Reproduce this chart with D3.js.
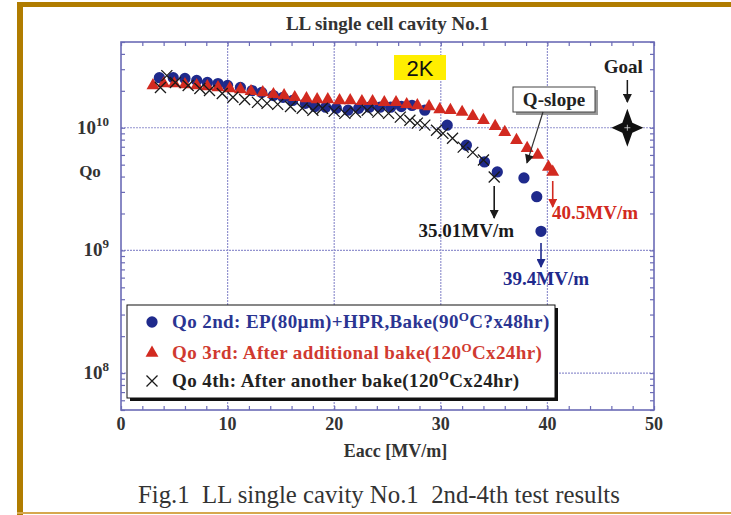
<!DOCTYPE html>
<html>
<head>
<meta charset="utf-8">
<script src="https://cdn.jsdelivr.net/npm/d3@7"></script>
<style>
  body { margin: 0; background: #fff; }
  svg text { font-family: "Liberation Serif", "Times New Roman", serif; }
</style>
</head>
<body>
<div id="chart"></div>
<script>
// ---- data ----
const eacc2 = [3.6, 4.9, 6.0, 7.1, 8.1, 9.1, 10.0, 11.2, 12.3, 13.2, 14.3, 15.2, 16.1, 17.3, 18.2, 19.2, 20.2, 21.3,
               22.3, 23.3, 24.3, 25.3, 26.3, 27.3, 28.5, 30.6, 32.4, 34.1, 35.3, 37.8, 39.0, 39.4];
const qo2 = [2.56e10, 2.56e10, 2.52e10, 2.43e10, 2.34e10, 2.29e10, 2.21e10, 2.13e10, 2.01e10, 1.94e10, 1.83e10, 1.77e10,
             1.67e10, 1.58e10, 1.49e10, 1.47e10, 1.44e10, 1.39e10, 1.44e10, 1.47e10, 1.47e10, 1.47e10, 1.49e10, 1.52e10,
             1.39e10, 1.05e10, 7.2e9, 5.26e9, 4.36e9, 3.9e9, 2.74e9, 1.43e9];

const eacc3 = [3.0, 4.0, 5.0, 6.0, 7.1, 8.1, 9.1, 10.2, 11.2, 12.2, 13.3, 14.3, 15.3, 16.3, 17.4, 18.4, 19.4, 20.5,
               21.5, 22.6, 23.6, 24.7, 25.8, 26.8, 27.8, 28.9, 29.9, 30.9, 32.0, 33.0, 34.0, 35.1, 36.0, 37.1, 38.1,
               39.1, 40.1, 40.5];
const qo3 = [2.21e10, 2.29e10, 2.29e10, 2.25e10, 2.21e10, 2.17e10, 2.13e10, 2.09e10, 2.05e10, 1.98e10, 1.94e10, 1.87e10,
             1.83e10, 1.77e10, 1.73e10, 1.70e10, 1.70e10, 1.67e10, 1.67e10, 1.64e10, 1.64e10, 1.61e10, 1.61e10, 1.55e10,
             1.52e10, 1.49e10, 1.41e10, 1.39e10, 1.34e10, 1.24e10, 1.15e10, 1.03e10, 9.2e9, 7.9e9, 6.8e9, 6.0e9,
             4.79e9, 4.36e9];

const eacc4 = [3.7, 4.3, 5.1, 6.3, 7.4, 8.3, 9.5, 10.5, 11.6, 12.8, 13.7, 14.7, 15.9, 17.0, 18.0, 18.9, 20.0, 21.0,
               22.0, 23.1, 24.1, 25.1, 26.2, 27.1, 27.8, 28.5, 29.6, 30.2, 31.1, 32.1, 33.0, 34.0, 35.01];
const qo4 = [2.13e10, 2.66e10, 2.34e10, 2.21e10, 2.09e10, 2.01e10, 1.90e10, 1.77e10, 1.70e10, 1.61e10, 1.58e10, 1.55e10,
             1.49e10, 1.44e10, 1.39e10, 1.44e10, 1.36e10, 1.31e10, 1.34e10, 1.39e10, 1.34e10, 1.31e10, 1.22e10, 1.15e10,
             1.09e10, 1.05e10, 9.55e9, 9.0e9, 8.2e9, 6.95e9, 6.3e9, 5.46e9, 3.97e9];

const goalEacc = 47.5;
const goalQo = 1e10;

const xTicks = [0, 10, 20, 30, 40, 50];
const yDecades = [1e8, 1e9, 1e10];
const yExponents = ["8", "9", "10"];

const legendLabels = [
    ["Qo 2nd: EP(80\u00b5m)+HPR,Bake(90", "O", "C?x48hr)"],
    ["Qo 3rd: After additional bake(120", "O", "Cx24hr)"],
    ["Qo 4th: After another bake(120", "O", "Cx24hr)"]
];

// ---- setup ----
const W = 731, H = 515;
const frameColor = "#6b6bb6";
const blue = "#1f2a8c", red = "#d22a20", black = "#1a1a1a";
const blueText = "#2b3592", redText = "#d03a30";

const svg = d3.select("#chart").append("svg")
    .attr("width", W)
    .attr("height", H);

// slide border
svg.append("rect").attr("x", 17).attr("y", 2).attr("width", 6).attr("height", H - 2).attr("fill", "#b07c00");
svg.append("rect").attr("x", 17).attr("y", 2).attr("width", W - 17).attr("height", 5).attr("fill", "#b07c00");
svg.append("rect").attr("x", 17).attr("y", 512).attr("width", W - 17).attr("height", 2).attr("fill", "#d6a84e");

const x = d3.scaleLinear().domain([0, 50]).range([121, 654]);
const y = d3.scaleLog().domain([5e7, 5e10]).range([410, 42]);

const [x0, x1] = x.range();
const [y0, y1] = y.range();

// arrow markers
const defs = svg.append("defs");
[["black", black], ["red", red], ["blue", blue]].forEach(([name, col]) => {
    defs.append("marker")
        .attr("id", "arrow-" + name)
        .attr("markerUnits", "userSpaceOnUse")
        .attr("viewBox", "0 0 10 10")
        .attr("refX", 9).attr("refY", 5)
        .attr("markerWidth", 11).attr("markerHeight", 9)
        .attr("orient", "auto")
        .append("path")
        .attr("d", "M0,0L10,5L0,10Z")
        .attr("fill", col);
});

// grid
svg.append("g").selectAll("line")
    .data(xTicks.slice(1, -1))
    .join("line")
    .attr("x1", d => x(d)).attr("x2", d => x(d))
    .attr("y1", y1).attr("y2", y0)
    .attr("stroke", "#9393cf")
    .attr("stroke-width", 1.2)
    .attr("stroke-dasharray", "2,1");

svg.append("g").selectAll("line")
    .data(yDecades)
    .join("line")
    .attr("x1", x0).attr("x2", x1)
    .attr("y1", d => y(d)).attr("y2", d => y(d))
    .attr("stroke", "#9393cf")
    .attr("stroke-width", 1.2)
    .attr("stroke-dasharray", "2,1");

// minor ticks (inward, all four sides)
const xMinor = d3.range(0, 51, 2);
const yMinor = [];
for (let e = 7; e <= 10; e++) {
    for (let k = 1; k <= 9; k++) {
        const v = k * Math.pow(10, e);
        if (v >= 5e7 && v <= 5e10) yMinor.push(v);
    }
}

function styleTicks(g) {
    g.select(".domain").remove();
    g.selectAll(".tick line").attr("stroke", frameColor).attr("stroke-width", 1.2);
}

svg.append("g").attr("transform", `translate(0,${y0})`)
    .call(d3.axisBottom(x).tickValues(xMinor).tickSize(-4).tickFormat(""))
    .call(styleTicks);
svg.append("g").attr("transform", `translate(0,${y1})`)
    .call(d3.axisTop(x).tickValues(xMinor).tickSize(-4).tickFormat(""))
    .call(styleTicks);
svg.append("g").attr("transform", `translate(${x0},0)`)
    .call(d3.axisLeft(y).tickValues(yMinor).tickSize(-4).tickFormat(""))
    .call(styleTicks);
svg.append("g").attr("transform", `translate(${x1},0)`)
    .call(d3.axisRight(y).tickValues(yMinor).tickSize(-4).tickFormat(""))
    .call(styleTicks);

// frame
svg.append("rect")
    .attr("x", x0).attr("y", y1)
    .attr("width", x1 - x0).attr("height", y0 - y1)
    .attr("fill", "none")
    .attr("stroke", frameColor)
    .attr("stroke-width", 1.6);

// tick labels
svg.append("g").selectAll("text")
    .data(xTicks)
    .join("text")
    .attr("x", d => x(d))
    .attr("y", y0 + 20)
    .attr("text-anchor", "middle")
    .style("font-size", "18px")
    .style("font-weight", "bold")
    .attr("fill", "#333")
    .text(d => d);

const yLab = svg.append("g").selectAll("text")
    .data(yDecades)
    .join("text")
    .attr("x", x0 - 12)
    .attr("y", d => y(d) + 6)
    .attr("text-anchor", "end")
    .style("font-size", "19px")
    .style("font-weight", "bold")
    .attr("fill", "#333");
yLab.append("tspan").text("10");
yLab.append("tspan")
    .attr("dy", -8)
    .style("font-size", "13px")
    .text((d, i) => yExponents[i]);

// axis titles
svg.append("text")
    .attr("x", 90).attr("y", 177)
    .attr("text-anchor", "middle")
    .style("font-size", "17px")
    .style("font-weight", "bold")
    .attr("fill", "#333")
    .text("Qo");

svg.append("text")
    .attr("x", (x0 + x1) / 2 + 8).attr("y", y0 + 47)
    .attr("text-anchor", "middle")
    .style("font-size", "18px")
    .style("font-weight", "bold")
    .attr("fill", "#333")
    .text("Eacc [MV/m]");

svg.append("text")
    .attr("x", (x0 + x1) / 2).attr("y", 30)
    .attr("text-anchor", "middle")
    .style("font-size", "19px")
    .style("font-weight", "bold")
    .attr("fill", "#333")
    .text("LL single cell cavity No.1");

svg.append("text")
    .attr("x", 138).attr("y", 503)
    .style("font-size", "24.8px")
    .style("white-space", "pre")
    .attr("fill", "#333")
    .text("Fig.1  LL single cavity No.1  2nd-4th test results");

// 2K badge
svg.append("rect")
    .attr("x", 394).attr("y", 55).attr("width", 52).attr("height", 25)
    .attr("fill", "#ffee00");
svg.append("text")
    .attr("x", 420).attr("y", 76)
    .attr("text-anchor", "middle")
    .style("font-family", "Liberation Sans, Arial, sans-serif")
    .style("font-size", "22px")
    .attr("fill", "#111")
    .text("2K");

// ---- data marks ----
const data2 = eacc2.map((e, i) => ({ e: e, q: qo2[i] }));
const data3 = eacc3.map((e, i) => ({ e: e, q: qo3[i] }));
const data4 = eacc4.map((e, i) => ({ e: e, q: qo4[i] }));

const circleSym = d3.symbol(d3.symbolCircle, 100);
const triSym = d3.symbol(d3.symbolTriangle, 72);
const crossPath = "M-5.5,-5.5L5.5,5.5M-5.5,5.5L5.5,-5.5";

svg.append("g").selectAll("path")
    .data(data2)
    .join("path")
    .attr("transform", d => `translate(${x(d.e)},${y(d.q)})`)
    .attr("d", circleSym)
    .attr("fill", blue);

svg.append("g").selectAll("path")
    .data(data3)
    .join("path")
    .attr("transform", d => `translate(${x(d.e)},${y(d.q)})`)
    .attr("d", triSym)
    .attr("fill", red);

svg.append("g").selectAll("path")
    .data(data4)
    .join("path")
    .attr("transform", d => `translate(${x(d.e)},${y(d.q)})`)
    .attr("d", crossPath)
    .attr("fill", "none")
    .attr("stroke", black)
    .attr("stroke-width", 1.3);

// goal star
const gx = x(goalEacc), gy = y(goalQo);
const starPts = [[0, -19], [5, -5], [16, 0], [5, 5], [0, 19], [-5, 5], [-16, 0], [-5, -5]];
svg.append("path")
    .attr("d", d3.line()(starPts.map(p => [gx + p[0], gy + p[1]])) + "Z")
    .attr("fill", "#111");
svg.append("path")
    .attr("d", `M${gx - 3},${gy}H${gx + 3}M${gx},${gy - 3}V${gy + 3}`)
    .attr("stroke", "#ddd")
    .attr("stroke-width", 0.8);
svg.append("text")
    .attr("x", gx - 4).attr("y", 73)
    .attr("text-anchor", "middle")
    .style("font-size", "19px")
    .style("font-weight", "bold")
    .attr("fill", "#222")
    .text("Goal");
svg.append("line")
    .attr("x1", gx).attr("x2", gx)
    .attr("y1", 80).attr("y2", 102)
    .attr("stroke", black).attr("stroke-width", 1.5)
    .attr("marker-end", "url(#arrow-black)");

// Q-slope callout
svg.append("rect")
    .attr("x", 516).attr("y", 90).attr("width", 82).attr("height", 25)
    .attr("fill", "#999");
svg.append("rect")
    .attr("x", 513).attr("y", 87).attr("width", 82).attr("height", 25)
    .attr("fill", "#fff").attr("stroke", "#444").attr("stroke-width", 1);
svg.append("text")
    .attr("x", 554).attr("y", 106)
    .attr("text-anchor", "middle")
    .style("font-size", "19px")
    .style("font-weight", "bold")
    .attr("fill", "#222")
    .text("Q-slope");
svg.append("line")
    .attr("x1", 543).attr("y1", 112)
    .attr("x2", x(37.8) + 3).attr("y2", y(3.9e9) - 15)
    .attr("stroke", "#333").attr("stroke-width", 1.2)
    .attr("marker-end", "url(#arrow-black)");

// quench field annotations
function quench(e, y1a, y2a, col, marker, label, tx, ty, anchor) {
    svg.append("line")
        .attr("x1", x(e)).attr("x2", x(e))
        .attr("y1", y1a).attr("y2", y2a)
        .attr("stroke", col).attr("stroke-width", 1.6)
        .attr("marker-end", `url(#arrow-${marker})`);
    svg.append("text")
        .attr("x", tx).attr("y", ty)
        .attr("text-anchor", anchor)
        .style("font-size", "19px")
        .style("font-weight", "bold")
        .attr("fill", col)
        .text(label);
}
quench(35.01, 186, 218, black, "black", "35.01MV/m", 514, 237, "end");
quench(40.5, 181, 207, red, "red", "40.5MV/m", 552, 219, "start");
quench(39.4, 243, 267, blue, "blue", "39.4MV/m", 503, 285, "start");

// ---- legend ----
const legend = svg.append("g");
legend.append("rect")
    .attr("x", 130).attr("y", 308).attr("width", 428).attr("height", 93)
    .attr("fill", "#111");
legend.append("rect")
    .attr("x", 127).attr("y", 305).attr("width", 428).attr("height", 93)
    .attr("fill", "#fff").attr("stroke", "#111").attr("stroke-width", 1);

const legendRows = [322, 353, 381];
const legendColors = [blueText, redText, "#222"];

legend.append("path")
    .attr("transform", `translate(152,${legendRows[0]})`)
    .attr("d", circleSym)
    .attr("fill", blue);
legend.append("path")
    .attr("transform", `translate(152,${legendRows[1]})`)
    .attr("d", triSym)
    .attr("fill", red);
legend.append("path")
    .attr("transform", `translate(152,${legendRows[2]})`)
    .attr("d", crossPath)
    .attr("fill", "none")
    .attr("stroke", black)
    .attr("stroke-width", 1.3);

const lt = legend.selectAll(".leg-text")
    .data(legendLabels)
    .join("text")
    .attr("class", "leg-text")
    .attr("x", 172)
    .attr("y", (d, i) => legendRows[i] + 6)
    .style("font-size", "19px")
    .style("font-weight", "bold")
    .style("letter-spacing", "0.4px")
    .attr("fill", (d, i) => legendColors[i]);
lt.append("tspan").text(d => d[0]);
lt.append("tspan").attr("dy", -7).style("font-size", "13px").text(d => d[1]);
lt.append("tspan").attr("dy", 7).text(d => d[2]);
</script>
</body>
</html>
